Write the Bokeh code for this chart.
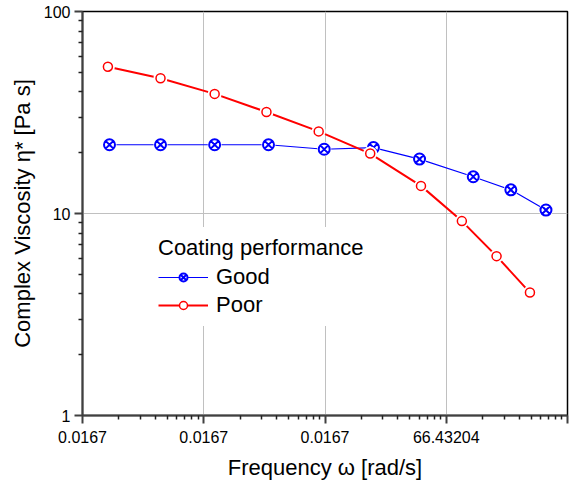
from bokeh.plotting import figure
from bokeh.models import FixedTicker, Legend, LegendItem
from bokeh.embed import file_html
from bokeh.resources import INLINE

# ---- data ----
good_freq = [0.0167, 0.044, 0.123, 0.342, 0.985, 2.51, 6.02, 16.7, 34.1, 66.43]
good_eta = [21.9, 21.9, 21.9, 21.9, 20.8, 21.2, 18.6, 15.2, 13.1, 10.4]
poor_freq = [0.0162, 0.044, 0.123, 0.329, 0.887, 2.36, 6.19, 13.45, 26.0, 49.0]
poor_eta = [53.3, 46.7, 39.1, 31.8, 25.5, 19.8, 13.7, 9.17, 6.15, 4.06]

x_ticks = [0.01, 0.1, 1, 10, 100]
x_tick_labels = ["0.0167", "0.0167", "0.0167", "66.43204", ""]
y_ticks = [1, 10, 100]
y_tick_labels = ["1", "10", "100"]

FONT = "Liberation Sans"

x_minor = [t * k for t in x_ticks[:-1] for k in range(2, 10)]
y_minor = [t * k for t in y_ticks[:-1] for k in range(2, 10)]

p = figure(width=569, height=482, x_axis_type="log", y_axis_type="log",
           x_range=(0.01, 100), y_range=(1, 100),
           output_backend="svg", toolbar_location=None,
           min_border_left=82, min_border_right=2, min_border_top=11, min_border_bottom=66)

p.xaxis.ticker = FixedTicker(ticks=x_ticks, minor_ticks=x_minor)
p.yaxis.ticker = FixedTicker(ticks=y_ticks, minor_ticks=y_minor)
p.xaxis.major_label_overrides = {t: l for t, l in zip(x_ticks, x_tick_labels)}
p.yaxis.major_label_overrides = {t: l for t, l in zip(y_ticks, y_tick_labels)}

for ax in (p.xaxis[0], p.yaxis[0]):
    ax.axis_line_color = "#404040"
    ax.axis_line_width = 2
    ax.major_tick_line_color = "#404040"
    ax.major_tick_line_width = 2
    ax.minor_tick_line_color = "#202020"
    ax.minor_tick_line_width = 1.5
    ax.major_tick_in = 0
    ax.major_tick_out = 8
    ax.minor_tick_in = 0
    ax.minor_tick_out = 4
    ax.major_label_text_font = FONT
    ax.major_label_text_font_size = "16px"
    ax.major_label_text_color = "black"
    ax.axis_label_text_font = FONT
    ax.axis_label_text_font_size = "22px"
    ax.axis_label_text_font_style = "normal"
    ax.axis_label_text_color = "black"

p.xaxis.major_label_standoff = 7
p.xaxis.axis_label_standoff = 9
p.yaxis.major_label_standoff = 4
p.yaxis.axis_label_standoff = 6

p.xaxis.axis_label = "Frequency ω [rad/s]"
p.yaxis.axis_label = "Complex Viscosity η* [Pa s]"

p.xgrid.grid_line_color = "#c0c0c0"
p.ygrid.grid_line_color = "#c0c0c0"
p.xgrid.grid_line_width = 1
p.ygrid.grid_line_width = 1

p.outline_line_color = "black"
p.outline_line_width = 1.5
p.background_fill_color = "white"

# Good series (blue)
gl = p.line(good_freq, good_eta, line_color="#0000ff", line_width=1.2)
gb = p.scatter(good_freq, good_eta, marker="circle", size=14, fill_color="white", line_color=None)
gm = p.scatter(good_freq, good_eta, marker="circle_x", size=11, fill_color=None,
               line_color="#0000ff", line_width=2)

# Poor series (red)
pl = p.line(poor_freq, poor_eta, line_color="#ff0000", line_width=2)
pb = p.scatter(poor_freq, poor_eta, marker="circle", size=14, fill_color="white", line_color=None)
pm = p.scatter(poor_freq, poor_eta, marker="circle", size=9, fill_color="white",
               line_color="#ff0000", line_width=1.5)

legend = Legend(items=[LegendItem(label="Good", renderers=[gl, gb, gm]),
                       LegendItem(label="Poor", renderers=[pl, pb, pm])],
                title="Coating performance", location=(68, 89))
legend.title_text_font = FONT
legend.title_text_font_size = "22px"
legend.title_text_font_style = "normal"
legend.title_text_color = "black"
legend.title_standoff = 3
legend.label_text_font = FONT
legend.label_text_font_size = "22px"
legend.label_text_color = "black"
legend.glyph_width = 50
legend.glyph_height = 20
legend.label_height = 20
legend.label_standoff = 8
legend.spacing = 2
legend.padding = 8
legend.border_line_alpha = 0
legend.background_fill_alpha = 1
p.add_layout(legend)

open("out.html", "w").write(file_html(p, INLINE))
